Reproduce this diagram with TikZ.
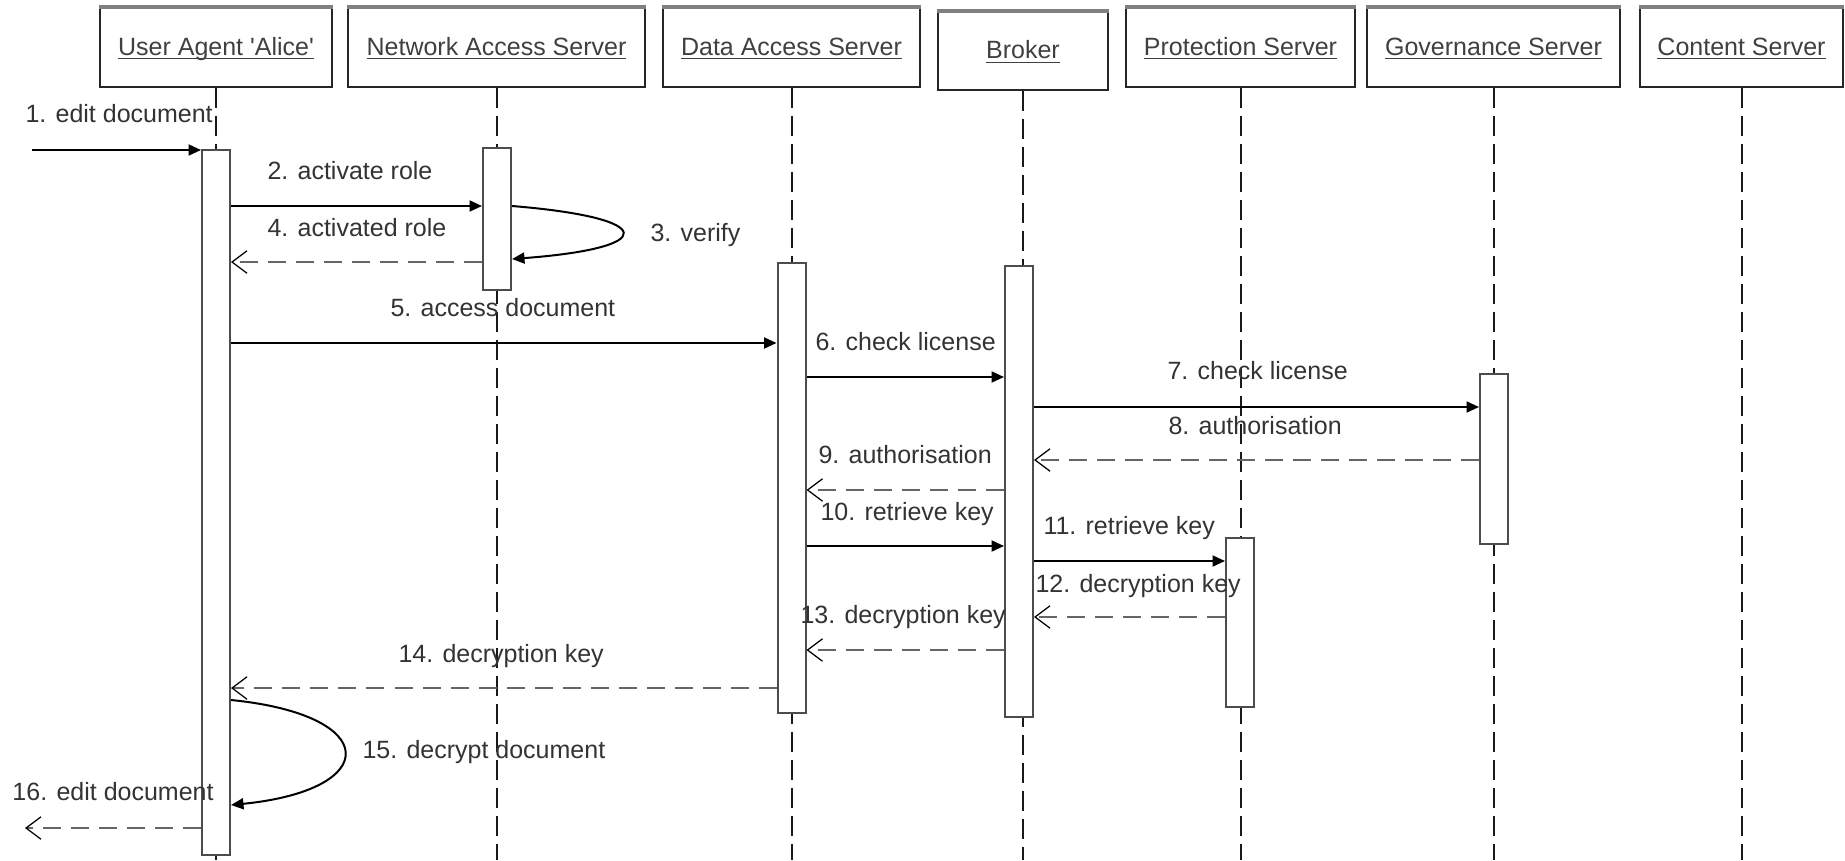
\documentclass[tikz,border=0pt]{standalone}
\usepackage{fontspec}
\setmainfont{Liberation Sans}
\usetikzlibrary{arrows.meta, calc}

\newcommand{\objname}[1]{\underline{\smash{#1}}}

\begin{document}
\begin{tikzpicture}[
    x=0.4pt, y=-0.4pt,
    obj/.style={draw=black!85, line width=0.7pt, fill=white, align=center, inner sep=0pt, text height=6pt, text depth=0pt, font=\fontsize{10}{12}\selectfont, text=black!75},
    bar/.style={draw=black!70, line width=0.8pt, fill=white, minimum width=11.2pt, inner sep=0pt},
    lifeline/.style={draw=black!90, line width=0.8pt, dash pattern=on 8pt off 3.2pt},
    msg/.style={anchor=base west, inner sep=0pt, font=\fontsize{10}{12}\selectfont, text=black!80},
    call/.style={draw=black, line width=0.8pt, -{Triangle[length=5pt, width=4.4pt]}},
    reply/.style={draw=black!60, line width=0.8pt, dash pattern=on 7.2pt off 4pt, -{Straight Barb[length=6pt, width=9pt, line width=0.5pt, color=black]}},
]

\fill[white] (0,0) rectangle (1845,860);
\useasboundingbox (0,0) rectangle (1845,860);
\coordinate (bottom) at (0,860);

% Objects
\node[obj, minimum width=92.8pt, minimum height=31.6pt] (alice) at (216,47.5) {\objname{User Agent \textquotesingle Alice\textquotesingle}};
\node[obj, minimum width=118.8pt, minimum height=31.6pt] (nas) at (496.5,47.5) {\objname{Network Access Server}};
\node[obj, minimum width=102.8pt, minimum height=31.6pt] (das) at (791.5,47.5) {\objname{Data Access Server}};
\node[obj, minimum width=68pt, minimum height=31.2pt] (broker) at (1023,51) {\objname{Broker}};
\node[obj, minimum width=91.6pt, minimum height=31.6pt] (prot) at (1240.5,47.5) {\objname{Protection Server}};
\node[obj, minimum width=101.2pt, minimum height=31.6pt] (gov) at (1493.5,47.5) {\objname{Governance Server}};
\node[obj, minimum width=81.2pt, minimum height=31.6pt] (content) at (1741.5,47.5) {\objname{Content Server}};
\foreach \n in {alice, nas, das, broker, prot, gov, content}
    \draw[black!50, line width=1.6pt] (\n.north west) -- (\n.north east);

% Lifelines
\foreach \n in {alice, nas, das, broker, prot, gov, content}
    \draw[lifeline] (\n.south) -- (\n.south |- bottom);

% Activation bars
\node[bar, minimum height=282pt] (aliceBar) at (216,502.5) {};
\node[bar, minimum height=56.8pt] (nasBar) at (497,219) {};
\node[bar, minimum height=180pt] (dasBar) at (791.5,488) {};
\node[bar, minimum height=180.4pt] (brokerBar) at (1019,491.5) {};
\node[bar, minimum height=67.6pt] (protBar) at (1240,622.5) {};
\node[bar, minimum height=68pt] (govBar) at (1494,459) {};

% Message levels
\coordinate (in) at (32,150);
\coordinate (y2) at (0,206);
\coordinate (y3) at (0,259);
\coordinate (y4) at (0,262);
\coordinate (y5) at (0,343);
\coordinate (y6) at (0,377);
\coordinate (y7) at (0,407);
\coordinate (y8) at (0,460);
\coordinate (y9) at (0,490);
\coordinate (y10) at (0,546);
\coordinate (y11) at (0,561);
\coordinate (y12) at (0,617);
\coordinate (y13) at (0,650);
\coordinate (y14) at (0,688);
\coordinate (y15a) at (0,700);
\coordinate (y15b) at (0,805);
\coordinate (out) at (25,828);

% Messages
\draw[call] (in) -- (aliceBar.west |- in);
\draw[call] (aliceBar.east |- y2) -- (nasBar.west |- y2);
\draw[call] (nasBar.east |- y2) .. controls +(147,12) and +(147,-11) .. (nasBar.east |- y3);
\draw[reply] (nasBar.west |- y4) -- (aliceBar.east |- y4);
\draw[call] (aliceBar.east |- y5) -- (dasBar.west |- y5);
\draw[call] (dasBar.east |- y6) -- (brokerBar.west |- y6);
\draw[call] (brokerBar.east |- y7) -- (govBar.west |- y7);
\draw[reply] (govBar.west |- y8) -- (brokerBar.east |- y8);
\draw[reply] (brokerBar.west |- y9) -- (dasBar.east |- y9);
\draw[call] (dasBar.east |- y10) -- (brokerBar.west |- y10);
\draw[call] (brokerBar.east |- y11) -- (protBar.west |- y11);
\draw[reply] (protBar.west |- y12) -- (brokerBar.east |- y12);
\draw[reply] (brokerBar.west |- y13) -- (dasBar.east |- y13);
\draw[reply] (dasBar.west |- y14) -- (aliceBar.east |- y14);
\draw[call] (aliceBar.east |- y15a) .. controls +(151,15) and +(151,-15) .. (aliceBar.east |- y15b);
\draw[reply] (aliceBar.west |- out) -- (out);

% Message labels
\node[msg] (l1) at (25,122) {1. edit document};
\node[msg] (l2) at (267,179) {2. activate role};
\node[msg] (l3) at (650,241) {3. verify};
\node[msg] (l4) at (267,236) {4. activated role};
\node[msg] (l5) at (390,316) {5. access document};
\node[msg] (l6) at (815,350) {6. check license};
\node[msg] (l7) at (1167,379) {7. check license};
\node[msg] (l8) at (1168,434) {8. authorisation};
\node[msg] (l9) at (818,463) {9. authorisation};
\node[msg] (l10) at (820,520) {10. retrieve key};
\node[msg] (l11) at (1043,534) {11. retrieve key};
\node[msg] (l12) at (1035,592) {12. decryption key};
\node[msg] (l13) at (800,623) {13. decryption key};
\node[msg] (l14) at (398,662) {14. decryption key};
\node[msg] (l15) at (362,758) {15. decrypt document};
\node[msg] (l16) at (12,800) {16. edit document};

\end{tikzpicture}
\end{document}
